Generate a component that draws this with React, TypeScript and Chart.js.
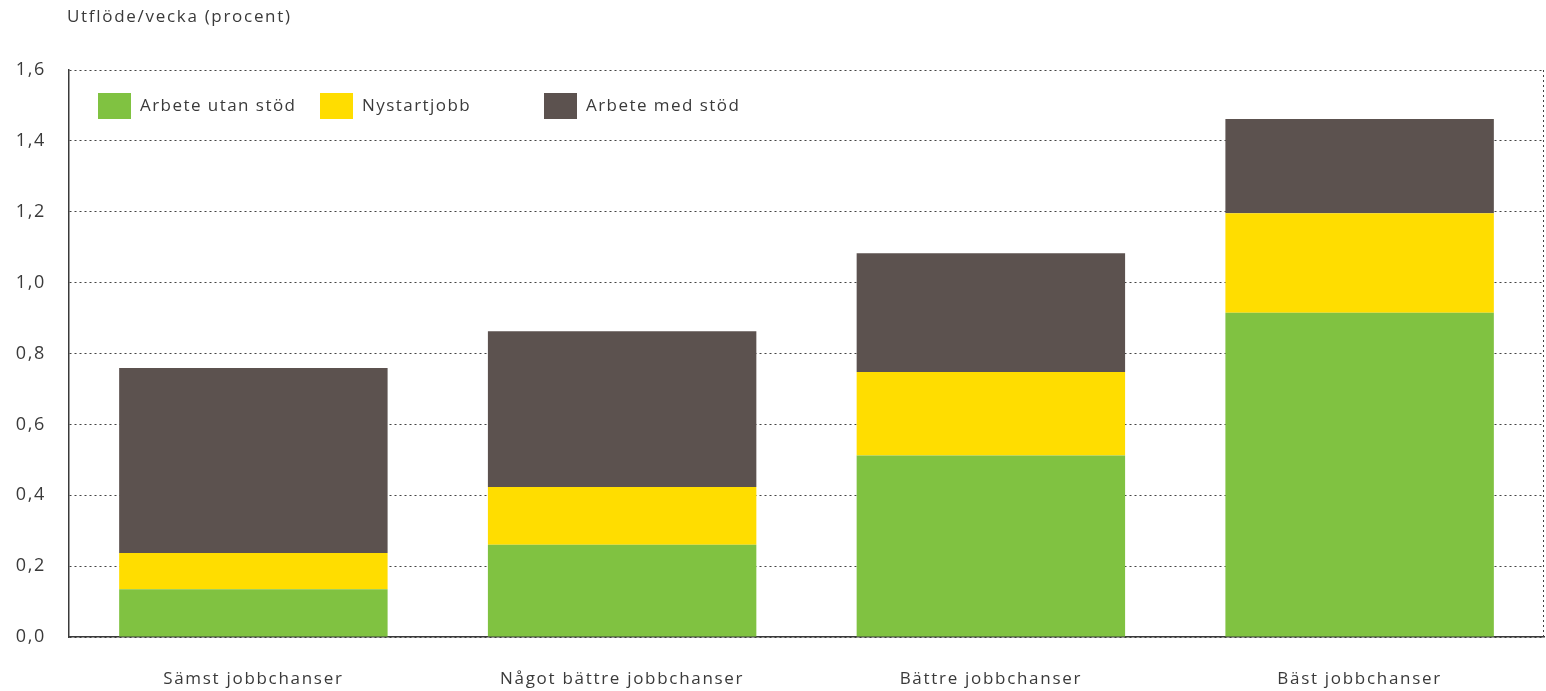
import React, { useEffect, useRef } from "react";
import { Chart, registerables } from "chart.js";

Chart.register(...registerables);

const categories = ["Sämst jobbchanser", "Något bättre jobbchanser", "Bättre jobbchanser", "Bäst jobbchanser"];
const seriesNames = ["Arbete utan stöd", "Nystartjobb", "Arbete med stöd"];
const arbeteUtanStod = [0.135, 0.26, 0.512, 0.915];
const nystartjobb = [0.102, 0.163, 0.236, 0.281];
const arbeteMedStod = [0.522, 0.44, 0.335, 0.266];
const seriesColors = ["#80C241", "#FFDD00", "#5C524F"];
const yTicks = [0, 0.2, 0.4, 0.6, 0.8, 1.0, 1.2, 1.4, 1.6];
const yTitle = "Utflöde/vecka (procent)";

const FONT = "'Open Sans', 'Noto Sans', sans-serif";
const TEXT = "#3a3a3a";

const decorPlugin = {
  id: "decor",
  beforeDraw(chart: any) {
    (chart.ctx as any).letterSpacing = "1.7px";
  },
  afterDraw(chart: any) {
    const { ctx, chartArea } = chart;
    ctx.save();
    // title
    (ctx as any).letterSpacing = "1.7px";
    ctx.fillStyle = TEXT;
    ctx.font = `17px ${FONT}`;
    ctx.textBaseline = "middle";
    ctx.textAlign = "left";
    ctx.fillText(yTitle, chartArea.left - 2, 17);
    // right dotted border
    ctx.strokeStyle = "#444";
    ctx.lineWidth = 1;
    ctx.setLineDash([2, 3]);
    ctx.beginPath();
    ctx.moveTo(chartArea.right - 0.5, chartArea.top);
    ctx.lineTo(chartArea.right - 0.5, chartArea.bottom);
    ctx.stroke();
    ctx.setLineDash([]);
    // legend
    (ctx as any).letterSpacing = "1.45px";
    const offsets = [29, 251, 475];
    const y = chartArea.top + 23;
    ctx.font = `17px ${FONT}`;
    seriesNames.forEach((name, i) => {
      const x = chartArea.left + offsets[i];
      ctx.fillStyle = seriesColors[i];
      ctx.fillRect(x, y, 33, 26);
      ctx.fillStyle = TEXT;
      ctx.fillText(name, x + 42, y + 13);
    });
    ctx.restore();
  },
};

export default function App() {
  const ref = useRef<HTMLCanvasElement>(null);
  useEffect(() => {
    document.body.style.margin = "0";
    const data = [arbeteUtanStod, nystartjobb, arbeteMedStod];
    const chart = new Chart(ref.current!, {
      type: "bar",
      data: {
        labels: categories,
        datasets: seriesNames.map((n, i) => ({
          label: n,
          data: data[i],
          backgroundColor: seriesColors[i],
          borderWidth: 0,
          categoryPercentage: 1,
          barPercentage: 0.728,
        })),
      },
      options: {
        animation: false,
        responsive: false,
        devicePixelRatio: 1,
        layout: { padding: { top: 70, right: 2, left: 0, bottom: 0 } },
        plugins: { legend: { display: false }, tooltip: { enabled: false }, title: { display: false } },
        scales: {
          x: {
            stacked: true,
            grid: { display: false },
            border: { display: true, color: "#3a3a3a", width: 1.5 },
            ticks: { color: TEXT, font: { family: FONT, size: 17 }, padding: 24, maxRotation: 0 },
            afterFit: (s: any) => { s.height = 54; },
          },
          y: {
            stacked: true,
            min: 0,
            max: 1.6,
            afterBuildTicks: (s: any) => { s.ticks = yTicks.map((v) => ({ value: v })); },
            grid: { color: "#444", lineWidth: 1, drawTicks: false },
            border: { display: true, color: "#3a3a3a", width: 1.5, dash: [2, 3] },
            ticks: {
              color: TEXT,
              font: { family: FONT, size: 18 },
              padding: 23,
              callback: (v: any) => Number(v).toFixed(1).replace(".", ","),
            },
            afterFit: (s: any) => { s.width = 69; },
          },
        },
      },
      plugins: [decorPlugin],
    });
    return () => chart.destroy();
  }, []);
  return (
    <div style={{ width: 1546, height: 691 }}>
      <canvas ref={ref} width={1546} height={691} style={{ width: 1546, height: 691, display: "block" }} />
    </div>
  );
}
